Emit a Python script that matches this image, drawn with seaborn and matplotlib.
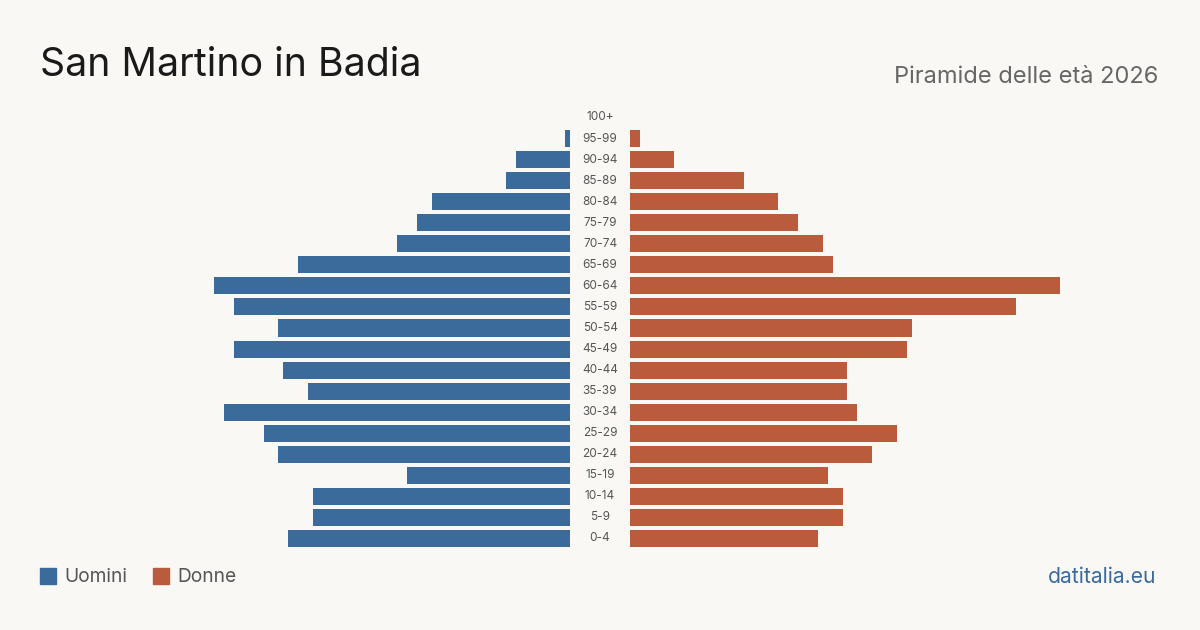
import pandas as pd
import seaborn as sns
import matplotlib.pyplot as plt
from matplotlib.transforms import blended_transform_factory
from matplotlib.patches import Rectangle

# age classes, top to bottom
ages = ["100+", "95-99", "90-94", "85-89", "80-84", "75-79", "70-74", "65-69",
        "60-64", "55-59", "50-54", "45-49", "40-44", "35-39", "30-34",
        "25-29", "20-24", "15-19", "10-14", "5-9", "0-4"]
uomini = [0, 1, 11, 13, 28, 31, 35, 55, 72, 68, 59, 68, 58, 53, 70, 62, 59, 33, 52, 52, 57]
donne = [0, 2, 9, 23, 30, 34, 39, 41, 87, 78, 57, 56, 44, 44, 46, 54, 49, 40, 43, 43, 38]

df = pd.DataFrame({"eta": ages, "uomini": uomini, "donne": donne})

bg = "#f9f8f4"
blue = "#3b6b9b"
orange = "#ba5c3c"

sns.set_style("white")
plt.rcParams["font.family"] = ["Inter", "DejaVu Sans"]

fig = plt.figure(figsize=(12, 6.3), dpi=100, facecolor=bg)
xmax = max(max(uomini), max(donne))

ax_l = fig.add_axes([140 / 1200, 0.1286, 430 / 1200, 0.7016])
ax_r = fig.add_axes([630 / 1200, 0.1286, 430 / 1200, 0.7016])

sns.barplot(data=df, x="uomini", y="eta", order=ages, color=blue, saturation=1,
            width=0.81, linewidth=0, ax=ax_l)
sns.barplot(data=df, x="donne", y="eta", order=ages, color=orange, saturation=1,
            width=0.81, linewidth=0, ax=ax_r)

ax_l.set_xlim(xmax, 0)
ax_r.set_xlim(0, xmax)
for ax in (ax_l, ax_r):
    ax.set_facecolor(bg)
    ax.set_xlabel("")
    ax.set_ylabel("")
    ax.set_xticks([])
    ax.set_yticks([])
    sns.despine(ax=ax, left=True, bottom=True)

# age labels in the middle gap
trans = blended_transform_factory(fig.transFigure, ax_r.transData)
for i, a in enumerate(ages):
    ax_r.text(600 / 1200, i, a, transform=trans, ha="center", va="center",
              fontsize=8.5, color="#555555", clip_on=False)

fig.text(40 / 1200, 1 - 66 / 630, "San Martino in Badia", fontsize=28.3,
         color="#1a1a1a", va="center", ha="left")
fig.text(1158 / 1200, 1 - 77 / 630, "Piramide delle età 2026", fontsize=17,
         color="#666666", va="center", ha="right")

# legend
for x0, lab, col in [(40, "Uomini", blue), (153, "Donne", orange)]:
    fig.patches.append(Rectangle((x0 / 1200, 1 - 584 / 630), 16 / 1200, 16 / 630,
                                 transform=fig.transFigure, color=col))
    fig.text((x0 + 24) / 1200, 1 - 577 / 630, lab, fontsize=13.8, color="#555555",
             va="center", ha="left")

fig.text(1156 / 1200, 1 - 577 / 630, "datitalia.eu", fontsize=15.2, color=blue,
         va="center", ha="right")

fig.savefig("out.png", dpi=100, facecolor=bg)
